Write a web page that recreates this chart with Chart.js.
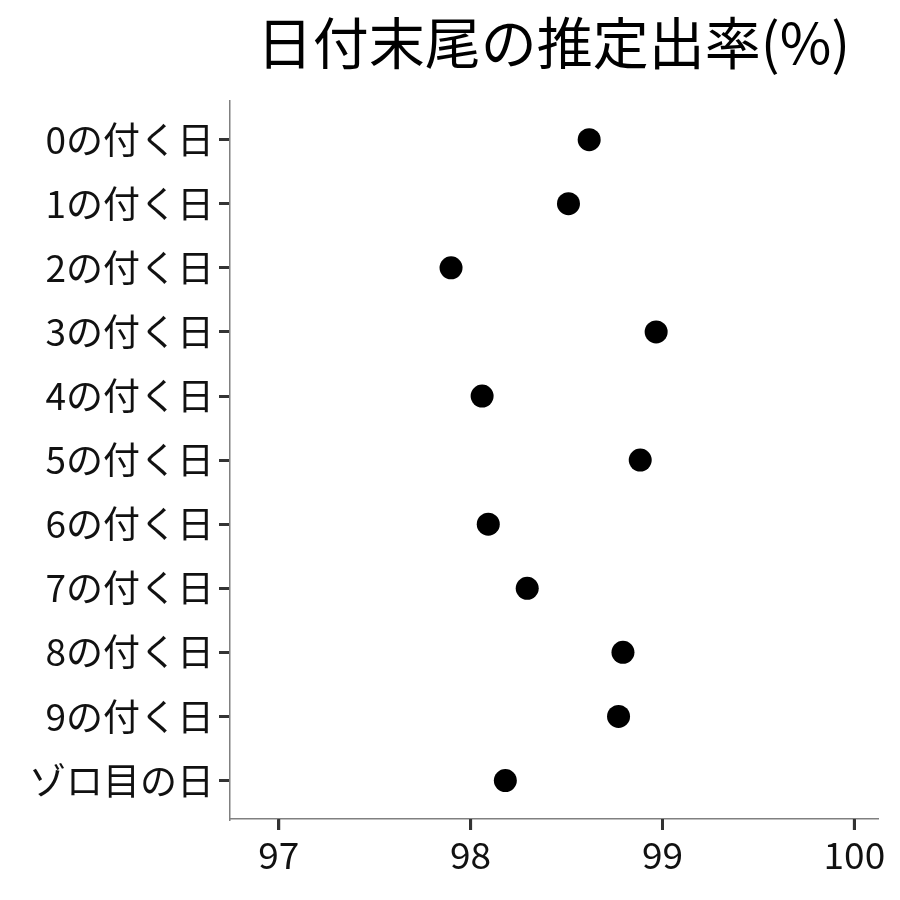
<!DOCTYPE html>
<html>
<head>
<meta charset="utf-8">
<script src="https://cdn.jsdelivr.net/npm/chart.js@4/dist/chart.umd.min.js"></script>
<style>
  html, body { margin: 0; padding: 0; background: #fff; }
  #wrap { width: 900px; height: 900px; position: relative; }
</style>
</head>
<body>
<div id="wrap"><canvas id="myChart"></canvas></div>
<script>
// categories (top to bottom) and estimated rates (%)
const categories = ["0の付く日", "1の付く日", "2の付く日", "3の付く日", "4の付く日",
  "5の付く日", "6の付く日", "7の付く日", "8の付く日", "9の付く日", "ゾロ目の日"];
const rates = [98.618, 98.510, 97.898, 98.967, 98.060, 98.884, 98.092, 98.295, 98.794, 98.771, 98.181];
const xTicks = [97, 98, 99, 100];
const titleText = "日付末尾の推定出率(%)";

const points = rates.map((v, i) => ({ x: v, y: i }));
const FONT = "'Noto Sans CJK JP', 'Noto Sans', sans-serif";

const tickGrid = {
  display: true,
  drawOnChartArea: false,
  drawTicks: true,
  tickLength: 11,
  color: "#333",
  lineWidth: 3,
  tickColor: "#333",
  tickWidth: 3
};

// x tick marks below the axis line (drawn from the scale's own tick positions)
const xTickMarks = {
  id: "xTickMarks",
  afterDraw(chart) {
    const xs = chart.scales.x;
    const c = chart.ctx;
    c.save();
    c.strokeStyle = "#333";
    c.lineWidth = 3;
    xs.ticks.forEach(t => {
      const px = xs.getPixelForValue(t.value);
      c.beginPath();
      c.moveTo(px, xs.top);
      c.lineTo(px, xs.top + 11);
      c.stroke();
    });
    c.restore();
  }
};

const ctx = document.getElementById("myChart").getContext("2d");
new Chart(ctx, {
  type: "scatter",
  data: {
    datasets: [{
      data: points,
      pointRadius: 11.5,
      pointHoverRadius: 11.5,
      pointBackgroundColor: "#000",
      pointBorderWidth: 0
    }]
  },
  plugins: [xTickMarks],
  options: {
    responsive: true,
    maintainAspectRatio: false,
    animation: false,
    layout: { padding: { left: 0, right: 23, top: 0, bottom: 0 } },
    plugins: {
      legend: { display: false },
      tooltip: { enabled: false },
      title: {
        display: true,
        text: titleText,
        fullSize: false,
        color: "#000",
        font: { family: FONT, size: 56, weight: "normal", lineHeight: 1.2 },
        padding: { top: 9, bottom: 25 }
      }
    },
    scales: {
      x: {
        type: "linear",
        min: 96.746,
        max: 100.118,
        afterBuildTicks: s => { s.ticks = xTicks.map(v => ({ value: v })); },
        afterFit: s => { s.height = 81; },
        border: { display: true, color: "#808080", width: 1.5 },
        grid: tickGrid,
        ticks: { color: "#111", font: { family: FONT, size: 37 }, padding: 3 }
      },
      y: {
        type: "linear",
        min: -0.6,
        max: 10.6,
        reverse: true,
        afterBuildTicks: s => { s.ticks = categories.map((c, i) => ({ value: i })); },
        afterFit: s => { s.width = 230; },
        border: { display: true, color: "#808080", width: 1.5 },
        grid: tickGrid,
        ticks: {
          color: "#111",
          font: { family: FONT, size: 37 },
          padding: 5,
          callback: v => categories[v]
        }
      }
    }
  }
});
</script>
</body>
</html>
